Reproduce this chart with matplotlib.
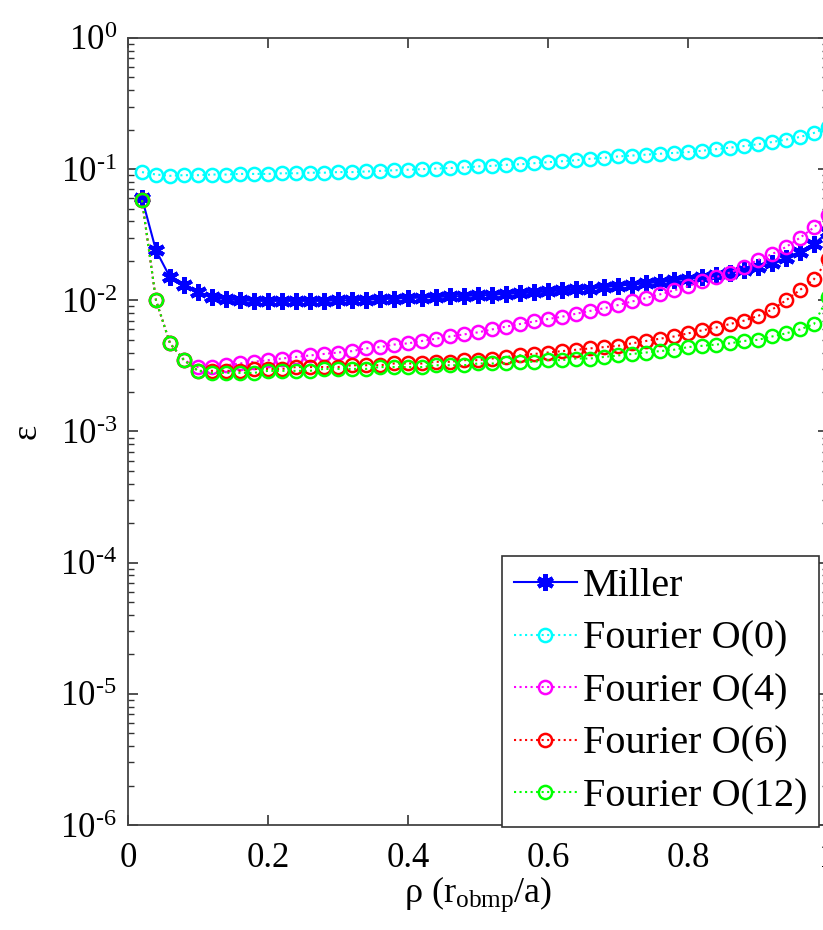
import matplotlib
matplotlib.use("Agg")
import matplotlib.pyplot as plt
from matplotlib.ticker import LogLocator, NullLocator, FuncFormatter
import numpy as np

plt.rcParams['font.family'] = ['Liberation Serif', 'DejaVu Serif']
plt.rcParams['mathtext.fontset'] = 'custom'
plt.rcParams['mathtext.rm'] = 'Liberation Serif'
plt.rcParams['mathtext.it'] = 'Liberation Serif:italic'

# radial grid rho = r_obmp / a
rho = [0.02, 0.04, 0.06, 0.08, 0.10, 0.12, 0.14, 0.16, 0.18, 0.20,
       0.22, 0.24, 0.26, 0.28, 0.30, 0.32, 0.34, 0.36, 0.38, 0.40,
       0.42, 0.44, 0.46, 0.48, 0.50, 0.52, 0.54, 0.56, 0.58, 0.60,
       0.62, 0.64, 0.66, 0.68, 0.70, 0.72, 0.74, 0.76, 0.78, 0.80,
       0.82, 0.84, 0.86, 0.88, 0.90, 0.92, 0.94, 0.96, 0.98, 1.00]

miller = [0.060, 0.024, 0.015, 0.0131, 0.0116, 0.0106, 0.0102, 0.0100, 0.0099, 0.0099,
          0.0099, 0.0099, 0.0099, 0.0099, 0.0100, 0.0100, 0.0101, 0.0102, 0.0103, 0.0104,
          0.0105, 0.0106, 0.0107, 0.0108, 0.0109, 0.0110, 0.0112, 0.0113, 0.0115, 0.0117,
          0.0119, 0.0121, 0.0123, 0.0126, 0.0129, 0.0132, 0.0135, 0.0138, 0.0142, 0.0146,
          0.0150, 0.0155, 0.0162, 0.0170, 0.0180, 0.0193, 0.0210, 0.0235, 0.0270, 0.0330]

fourier0 = [0.095, 0.091, 0.089, 0.090, 0.090, 0.091, 0.091, 0.092, 0.092, 0.092,
            0.093, 0.093, 0.094, 0.094, 0.095, 0.095, 0.096, 0.097, 0.098, 0.099,
            0.100, 0.101, 0.102, 0.103, 0.105, 0.106, 0.108, 0.109, 0.111, 0.113,
            0.115, 0.117, 0.120, 0.122, 0.125, 0.127, 0.129, 0.131, 0.133, 0.135,
            0.138, 0.142, 0.146, 0.150, 0.155, 0.161, 0.168, 0.176, 0.189, 0.210]

fourier4 = [0.058, 0.0100, 0.0047, 0.0035, 0.0031, 0.0031, 0.0032, 0.0033, 0.0034, 0.0035,
            0.0036, 0.0037, 0.0038, 0.0039, 0.0040, 0.0041, 0.0043, 0.0044, 0.0046, 0.0047,
            0.0049, 0.0051, 0.0053, 0.0055, 0.0057, 0.0060, 0.0063, 0.0066, 0.0069, 0.0072,
            0.0075, 0.0079, 0.0083, 0.0087, 0.0092, 0.0098, 0.0104, 0.0111, 0.0119, 0.0128,
            0.0140, 0.0150, 0.0163, 0.0180, 0.0203, 0.0225, 0.0255, 0.0300, 0.0360, 0.0450]

fourier6 = [0.058, 0.0100, 0.0047, 0.0035, 0.0029, 0.0029, 0.0029, 0.0029, 0.0030, 0.0030,
            0.0030, 0.0031, 0.0031, 0.0031, 0.0031, 0.0032, 0.0032, 0.0032, 0.0033, 0.0033,
            0.0033, 0.0034, 0.0034, 0.0035, 0.0035, 0.0036, 0.0037, 0.0038, 0.0039, 0.0040,
            0.0041, 0.0042, 0.0043, 0.0044, 0.0045, 0.0047, 0.0049, 0.0051, 0.0053, 0.0056,
            0.0059, 0.0062, 0.0066, 0.0070, 0.0076, 0.0085, 0.0100, 0.0120, 0.0145, 0.0205]

fourier12 = [0.058, 0.0100, 0.0047, 0.0035, 0.0029, 0.0028, 0.0028, 0.0028, 0.0028, 0.0029,
             0.0029, 0.0029, 0.0029, 0.0030, 0.0030, 0.0030, 0.0030, 0.0031, 0.0031, 0.0031,
             0.0031, 0.0032, 0.0032, 0.0032, 0.0033, 0.0033, 0.0033, 0.0034, 0.0034, 0.0035,
             0.0035, 0.0036, 0.0036, 0.0037, 0.0038, 0.0039, 0.0040, 0.0041, 0.0042, 0.0044,
             0.0045, 0.0046, 0.0047, 0.0049, 0.0050, 0.0053, 0.0056, 0.0060, 0.0066, 0.0106]

xticks = [0, 0.2, 0.4, 0.6, 0.8, 1]
xticklabels = ['0', '0.2', '0.4', '0.6', '0.8', '1']


def decade_label(v, pos):
    # MATLAB style: 10^-3 with a plain hyphen
    k = int(round(np.log10(v)))
    return r'$10^{\text{%d}}$' % k


fig = plt.figure(figsize=(8.23, 9.30), dpi=100)
# axes spans the MATLAB box; right edge sits just past the image edge
ax = fig.add_axes([128/823, 1-825/930, 700/823, 787/930])

circ = dict(marker='o', markersize=9.5, markerfacecolor='none', markeredgewidth=1.8,
            linestyle=':', linewidth=1.5)
ax.plot(rho, miller, '-', color='#0000ff', marker=(6, 2, 0), markersize=12,
        markeredgewidth=3, linewidth=1.5, label='Miller')
ax.plot(rho, fourier0, color='#00ffff', markeredgecolor='#00ffff', label='Fourier O(0)', **circ)
ax.plot(rho, fourier4, color='#ff00ff', markeredgecolor='#ff00ff', label='Fourier O(4)', **circ)
ax.plot(rho, fourier6, color='#ff0000', markeredgecolor='#ff0000', label='Fourier O(6)', **circ)
ax.plot(rho, fourier12, color='#00ff00', markeredgecolor='#00ff00', label='Fourier O(12)', **circ)

ax.set_yscale('log')
ax.set_ylim(1e-6, 1)
ax.set_xlim(0, 1)
ax.set_xticks(xticks)
ax.set_xticklabels(xticklabels)
ax.xaxis.set_minor_locator(NullLocator())
ax.yaxis.set_major_locator(LogLocator(base=10, numticks=10))
ax.yaxis.set_major_formatter(FuncFormatter(decade_label))
ax.tick_params(which='both', direction='in', top=True, right=True, labelsize=25,
               colors='#333333', labelcolor='black')
ax.tick_params(which='major', length=7, width=1.2)
ax.tick_params(which='minor', length=4, width=1)
ax.tick_params(axis='x', pad=12)
ax.tick_params(axis='y', pad=8)
for s in ax.spines.values():
    s.set_color('#444444')
    s.set_linewidth(1.3)

ax.set_xlabel(r'ρ (r$_{\mathrm{obmp}}$/a)', fontsize=26, labelpad=0)
ax.set_ylabel('ε', fontsize=26, labelpad=12)

leg = ax.legend(loc='upper left', bbox_to_anchor=(502/823, 1-556/930),
                bbox_transform=fig.transFigure, fontsize=29, fancybox=False,
                framealpha=1, edgecolor='#333333', handlelength=1.55,
                handletextpad=0.15, labelspacing=0.38, borderpad=0.3,
                borderaxespad=0)
leg.get_frame().set_linewidth(1.2)

fig.savefig('out.png', dpi=100)
